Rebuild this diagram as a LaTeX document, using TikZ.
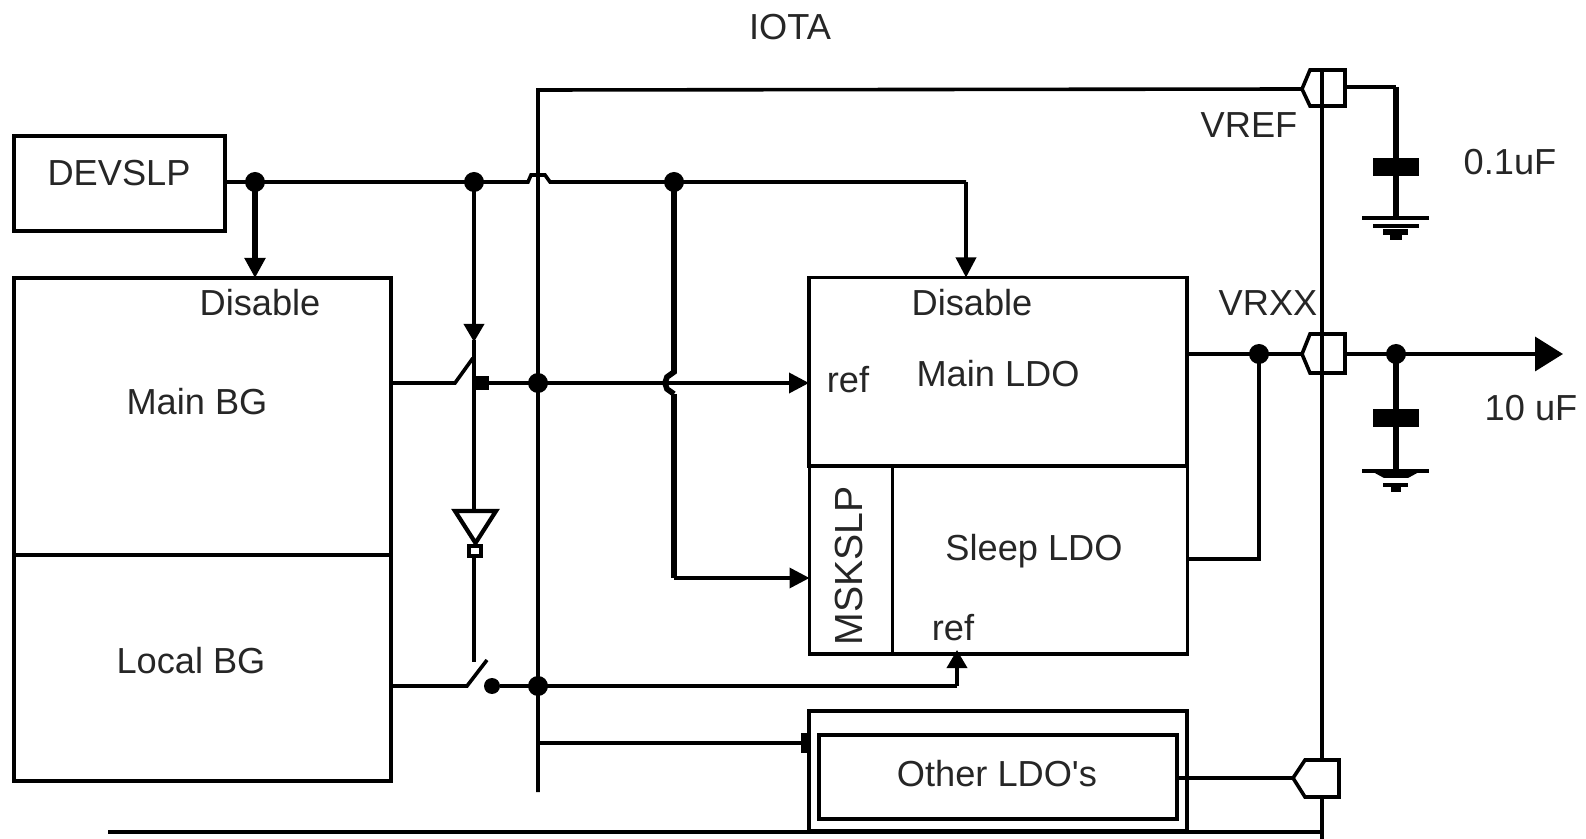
\documentclass[tikz,border=0pt]{standalone}
\usepackage{fontspec}
\setmainfont{Liberation Sans}
\newfontfamily\plainf{Liberation Sans}
\usetikzlibrary{arrows.meta,calc}
\tikzset{
  px/.style={x=0.5pt,y=-0.5pt},
  wire/.style={draw=black,line width=1.8pt,line join=miter},
  heavy/.style={draw=black,line width=2.8pt},
  box/.style={draw=black,line width=1.9pt,fill=white,inner sep=0pt,outer sep=0pt,rectangle},
  lab/.style={text=black!85,font=\fontsize{18.1pt}{20pt}\selectfont,inner sep=0pt},
  dot/.style={circle,fill=black,inner sep=0pt,minimum size=10pt},
  tip/.style={-{Triangle[length=10pt,width=10pt]}},
  bigtip/.style={-{Triangle[length=14pt,width=17pt]}},
  smalltip/.style={-{Triangle[length=9pt,width=10pt]}},
  pad/.style={draw=black,line width=1.8pt,fill=white,line join=miter},
  gndline/.style={draw=black,line width=1.8pt},
  plate/.style={fill=black,inner sep=0pt,outer sep=0pt,rectangle,minimum width=23pt,minimum height=9pt}
}
\begin{document}
\begin{tikzpicture}[px]
\useasboundingbox (0,0) rectangle (1586,839);
% boxes
\node[box,minimum width=105.5pt,minimum height=47.5pt] (devslp) at (119.5,183.5) {};
\node[box,minimum width=188.5pt,minimum height=138.5pt] (mainbg) at (202.5,416.5) {};
\node[box,minimum width=188.5pt,minimum height=113pt] (localbg) at (202.5,668) {};
\node[box,minimum width=189pt,minimum height=94.5pt] (mainldo) at (998,372) {};
\node[box,minimum width=41.5pt,minimum height=94pt] (mskslp) at (851,560) {};
\node[box,minimum width=147.5pt,minimum height=94pt] (sleepldo) at (1040,560) {};
\node[box,minimum width=189pt,minimum height=60pt] (otherouter) at (998,771) {};
\node[box,line width=2.2pt,minimum width=179pt,minimum height=42pt] (otherldo) at (998,777) {};
% coordinates
\coordinate (jdev) at (255,182);
\coordinate (jsw) at (474,182);
\coordinate (jmid) at (674,182);
\coordinate (jldo) at (966,182);
\coordinate (bustop) at (538,90);
\coordinate (busbot) at (538,792);
\coordinate (jbus1) at (538,383);
\coordinate (jbus2) at (538,686);
\coordinate (jbus3) at (538,743);
\coordinate (pref) at (1302,89);
\coordinate (prxx) at (1302,354);
\coordinate (poth) at (1293,778);
\coordinate (jvrxx) at (1259,354);
\coordinate (jout) at (1396,354);
\coordinate (outend) at (1563,354);
\coordinate (capa) at (1396,87);
\coordinate (gnda) at (1396,218);
\coordinate (gndb) at (1396,471);
\coordinate (sw1a) at (455,383);
\coordinate (sw1b) at (473,358);
\coordinate (sw1c) at (481,383);
\coordinate (sw2a) at (467,686);
\coordinate (sw2b) at (487,660);
\coordinate (sw2c) at (492,686);
\coordinate (railtop) at (1322,70);
\coordinate (railbot) at (1322,839);
\coordinate (raill) at (108,832);
% DEVSLP line with jump over bus
\draw[wire] (devslp.east |- jdev) -- (jdev) -- (jsw) -- (528,182) -- (531,175) -- (545,175) -- (550,182) -- (jmid) -- (jldo);
\draw[wire,tip] (jldo) -- (jldo |- mainldo.north);
\draw[heavy,tip] (jdev) -- (jdev |- mainbg.north);
% bus
\draw[wire] (busbot) -- (bustop) -- (pref);
% switch control
\draw[wire,smalltip] (jsw) -- (474,342);
\draw[wire] (474,340) -- (474,510);
\draw[wire] (474,555) -- (474,662);
\draw[pad,line width=2.1pt] (455,511) -- (496,511) -- (475.5,543) -- cycle;
\node[draw=black,line width=1.7pt,fill=white,inner sep=0pt,minimum width=6pt,minimum height=5pt,name=bubble] at (475,551) {};
% switch 1
\draw[wire] (mainbg.east |- sw1a) -- (sw1a) -- (sw1b);
\node[fill=black,inner sep=0pt,minimum width=7.5pt,minimum height=7pt] (c1) at (sw1c) {};
\draw[wire,tip] (c1) -- (mainldo.west |- c1);
% switch 2
\draw[wire] (localbg.east |- sw2a) -- (sw2a) -- (sw2b);
\node[dot,minimum size=8pt] (c2) at (sw2c) {};
\draw[wire] (c2) -- (957,686);
\coordinate (refin) at (957,686);
\draw[wire,smalltip] (refin) -- (957,650);
% heavy branch with jump over ref line
\draw[heavy] (jmid) -- (674,372) -- (667,377) -- (665,383) -- (667,389) -- (674,394);
\draw[heavy] (674,394) -- (674,578);
\draw[wire,tip] (674,578) -- (mskslp.west |- 0,578);
% other LDO feed
\draw[wire] (jbus3) -- (otherouter.west |- jbus3);
\node[fill=black,inner sep=0pt,minimum width=4pt,minimum height=10pt] (stub) at (805,743) {};
% vrxx
\draw[wire] (mainldo.east |- prxx) -- (prxx);
\draw[wire] (jvrxx) -- (1259,559) -- (sleepldo.east |- 0,559);
\draw[wire,bigtip] (1345,354) -- (outend);
% caps
\draw[wire] (1345,87) -- (capa);
\draw[heavy,line width=3.2pt] (capa) -- (gnda);
\node[plate] (capA) at (1396,167) {};
\draw[heavy,line width=3.2pt] (jout) -- (gndb);
\node[plate] (capB) at (1396,418) {};
% grounds
\draw[gndline] (1362,218) -- (1429,218);
\draw[gndline,line width=2.2pt] (1373,226) -- (1419,226);
\draw[gndline,line width=3pt] (1383,232) -- (1408,232);
\draw[gndline,line width=2.5pt] (1390,238) -- (1402,238);
\draw[gndline] (1362,471) -- (1429,471);
\fill (1373,472) -- (1419,472) -- (1408,478) -- (1384,478) -- cycle;
\draw[gndline,line width=2.2pt] (1383,485) -- (1408,485);
\draw[gndline,line width=2.5pt] (1391,490) -- (1401,490);
% pads
\draw[pad] (pref) -- (1310,70) -- (1345,70) -- (1345,106) -- (1310,106) -- cycle;
\draw[pad] (prxx) -- (1310,334) -- (1345,334) -- (1345,373) -- (1310,373) -- cycle;
% rails
\draw[wire,line width=1.9pt] (railtop) -- (railbot);
\draw[draw=black,line width=2.4pt,dash pattern=on 1pt off 3.5pt] (1322,250) -- (railbot);
\draw[wire] (raill) -- (1322,832);
\draw[pad] (poth) -- (1305,760) -- (1339,760) -- (1339,797) -- (1305,797) -- cycle;
\draw[wire,line width=2.4pt] (otherldo.east |- poth) -- (poth);
% junctions
\foreach \j/\n in {jdev/d1,jsw/d2,jmid/d3,jbus1/d4,jbus2/d5,jvrxx/d6,jout/d7}{\node[dot] (\n) at (\j) {};}
% labels
\node[lab] (l1) at (790,27) {IOTA};
\node[lab] (l2) at (1249,125) {VREF};
\node[lab] (l3) at (1510,162) {0.1uF};
\node[lab] (l4) at (1268,303) {VRXX};
\node[lab] (l5) at (1531,408) {10 uF};
\node[lab] (l6) at (119,173) {DEVSLP};
\node[lab] (l7) at (260,303) {Disable};
\node[lab] (l8) at (197,402) {Main BG};
\node[lab] (l9) at (191,661) {Local BG};
\node[lab] (l10) at (972,303) {Disable};
\node[lab] (l11) at (848,380) {ref};
\node[lab] (l12) at (998,374) {Main LDO};
\node[lab] (l13) at (1034,551) {Sleep LDO};
\node[lab,rotate=90,font=\fontsize{19.6pt}{20pt}\selectfont] (l14) at (849,566) {MSKSLP};
\node[lab] (l15) at (953,628) {ref};
\node[lab] (l16) at (997,774) {\plainf Other LDO's};
\end{tikzpicture}
\end{document}
